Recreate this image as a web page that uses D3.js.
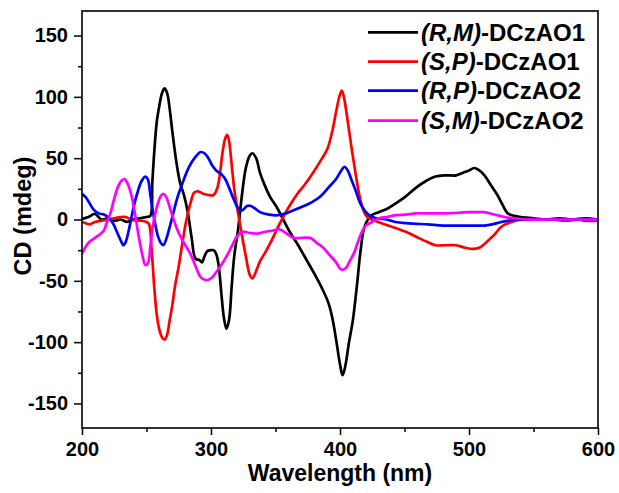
<!DOCTYPE html>
<html><head><meta charset="utf-8">
<script src="https://cdn.jsdelivr.net/npm/d3@7"></script>
<style>body{margin:0;background:#fff}svg{display:block}text{font-family:"Liberation Sans",Arial,sans-serif;font-weight:bold}</style>
</head><body>
<svg id="chart" width="619" height="493"></svg>
<script>
// ---- data ----
const wavelengthsRM = [200,205,210,215,220,225,230,235,240,245,250,253,254.5,256,258,260,262,264,266,268,270,273,276,279,282,285,288,291,293,295,297,300,302,304,306,308,310,312,314,316,318,321,324,327,330,332,335,338,342,346,351,356,361,367,373,380,386,391,394,397,400,402,404,407,410,413,416,419,424,430,437,443,450,459,466,474,482,490,495,500,504,508,512,517,522,526,530,535,540,550,560,570,580,590,600];
const valuesRM = [0.5,2,4.5,0,1,-1,0,-2,0,1,2,3,30,55,80,93,103,107,103,90,72,48,30,20,6,-15,-32,-33,-35,-30,-26,-25,-25,-28,-38,-60,-80,-89,-82,-55,-30,-8,20,42,52,54,50,38,27,18,10,0,-10,-20,-31,-44,-56,-68,-80,-98,-118,-127,-120,-100,-82,-55,-25,-6,3,6,9,13,18,26,31,35,36,36,38,40,42,40,36,28,20,12,5,3,2,1,0,1,0,1,0];

const wavelengthsSP = [200,203,206,210,215,220,225,230,234,238,242,246,250,252,254,256,258,260,262,264,266,268,270,272,275,278,281,284,287,290,294,298,302,305,307,309,311,312.5,314,316,318,321,324,327,330,332,335,338,342,347,352,357,362,367,373,379,385,390,394,397,400,401.5,403,406,409,412,415,418,421,427,435,443,451,459,467,474,482,490,497,503,508,512,516,520,524,528,533,538,545,555,565,575,585,590,600];
const valuesSP = [-2,-3,-4,-2,-1,0,1,2,2,0,-1,-1,-2,-4,-25,-55,-78,-90,-96,-98,-94,-82,-70,-55,-38,-18,0,13,22,23,21,20,20,26,38,55,66,69,64,45,25,5,-13,-30,-45,-48,-42,-34,-27,-17,-6,4,13,21,29,38,48,57,72,88,102,105,100,80,58,38,20,8,2,-1,-4,-7,-10,-14,-18,-21,-21,-21,-23,-24,-23,-20,-16,-12,-7,-4,-2,-0.5,0,0,0,-1,0,-1,-1];

const wavelengthsRP = [200,203,206,209,213,217,221,224,227,230,232,234,236,238,240,243,246,249,251,253,255,257,259,261,263,265,267,270,274,278,283,288,292,295,298,301,304,308,311,314,317,320,322.5,325,328,331,334,338,345,352,358,365,372,378,385,391,397,401,403.5,406,409,412,415,418,422,428,436,443,451,459,468,480,492,505,512,518,525,530,535,545,560,575,590,600];
const valuesRP = [21,18,13,8,5,4,1,-3,-10,-17,-21,-18,-10,0,10,22,31,35,33,20,6,-5,-14,-19,-21,-17,-10,2,18,30,43,51,55,54,50,44,40,37,33,26,18,11,7,8,11,11,9,6,4,3.5,5,8,11,14,19,26,33,40,43,40,32,24,15,9,4,1,0,-2,-3,-3.5,-4,-5,-5,-5,-5,-4,-2,-1,0,0,0,0,0,0];

const wavelengthsSM = [200,203,206,210,214,217,219,222,225,228,231,233,235,238,241,244,247,249,251,253,255,258,261,263,265,268,271,275,279,284,288,292,296,300,304,308,312,316,320,324,330,336,342,348,353,358,364,370,377,382,387,392,397,400,402,405,408,411,414,417,420,425,430,436,443,451,459,470,480,492,500,506,512,518,524,530,536,545,560,575,590,600];
const valuesSM = [-28,-22,-18,-15,-12,-9,-3,5,17,27,32,33,30,21,5,-14,-30,-37,-36,-22,-5,10,19,21,19,10,0,-11,-19,-28,-38,-47,-49.5,-48,-43,-37,-30,-22,-14,-10,-11,-11.5,-10,-9,-8,-11,-15,-15,-15,-19,-23,-29,-35,-40,-41,-39,-33,-27,-18,-10,-5,-2,1,2,3.5,4,5,5,5,5.5,6,6,6,4.5,3,1.5,1,0,0,0,0,0];

const seriesNames = ["(R,M)-DCzAO1","(S,P)-DCzAO1","(R,P)-DCzAO2","(S,M)-DCzAO2"];
const seriesColors = ["#000000","#ff0000","#0000ff","#ff00ff"];
const xTicks = [200,300,400,500,600];
const yTicks = [-150,-100,-50,0,50,100,150];

// ---- chart ----
const svg = d3.select("#chart");
const L = 82, R = 598, T = 11, B = 428;
const x = d3.scaleLinear().domain([200,600]).range([L,R]);
const y = d3.scaleLinear().domain([-170,170]).range([B,T]);

const series = [
  {name: seriesNames[0], color: seriesColors[0], w: wavelengthsRM, v: valuesRM},
  {name: seriesNames[1], color: seriesColors[1], w: wavelengthsSP, v: valuesSP},
  {name: seriesNames[2], color: seriesColors[2], w: wavelengthsRP, v: valuesRP},
  {name: seriesNames[3], color: seriesColors[3], w: wavelengthsSM, v: valuesSM}
];

svg.append("clipPath").attr("id","clip").append("rect")
  .attr("x",L).attr("y",T).attr("width",R-L).attr("height",B-T);

const line = d3.line().x(d=>x(d[0])).y(d=>y(d[1])).curve(d3.curveCatmullRom.alpha(0.5));
const g = svg.append("g").attr("clip-path","url(#clip)");
series.forEach(s=>{
  g.append("path").datum(s.w.map((w,i)=>[w,s.v[i]]))
    .attr("fill","none").attr("stroke",s.color).attr("stroke-width",2.7)
    .attr("stroke-linejoin","round").attr("d",line);
});

// frame
svg.append("rect").attr("x",L).attr("y",T).attr("width",R-L).attr("height",B-T)
  .attr("fill","none").attr("stroke","#000").attr("stroke-width",1.6);

// minor ticks
const xMinor = d3.axisBottom(x).tickValues(d3.range(250,600,100)).tickSize(4).tickFormat("");
const yMinor = d3.axisLeft(y).tickValues(d3.range(-125,150,50)).tickSize(4).tickFormat("");
svg.append("g").attr("transform",`translate(0,${B})`).call(xMinor).call(a=>a.select(".domain").remove());
svg.append("g").attr("transform",`translate(${L},0)`).call(yMinor).call(a=>a.select(".domain").remove());

const fmt = d => String(d);
const xAxis = d3.axisBottom(x).tickValues(xTicks).tickSize(7).tickPadding(7).tickFormat(fmt);
const yAxis = d3.axisLeft(y).tickValues(yTicks).tickSize(8).tickPadding(6).tickFormat(fmt);
const gx = svg.append("g").attr("transform",`translate(0,${B})`).call(xAxis);
const gy = svg.append("g").attr("transform",`translate(${L},0)`).call(yAxis);
[gx,gy].forEach(a=>{
  a.select(".domain").remove();
  a.selectAll("text").attr("font-size",20).attr("font-family","Liberation Sans, Arial").attr("font-weight","bold").attr("fill","#000");
});
svg.selectAll(".tick line").attr("stroke","#000").attr("stroke-width",1.5);

// axis titles
svg.append("text").attr("x",(L+R)/2).attr("y",481).attr("text-anchor","middle")
  .attr("font-size",23).text("Wavelength (nm)");
svg.append("text").attr("transform","translate(31,216) rotate(-90)").attr("text-anchor","middle")
  .attr("font-size",23.5).text("CD (mdeg)");

// legend
const legY = [32.3,61.7,90.7,120.7];
series.forEach((s,i)=>{
  svg.append("line").attr("x1",368).attr("x2",418).attr("y1",legY[i]).attr("y2",legY[i])
    .attr("stroke",s.color).attr("stroke-width",2.7);
  const m = s.name.match(/^(\(.*\))(.*)$/);
  const t = svg.append("text").attr("x",421).attr("y",legY[i]+8.5).attr("font-size",24);
  t.append("tspan").attr("font-style","italic").text(m[1]);
  t.append("tspan").text(m[2]);
});
</script>
</body></html>
